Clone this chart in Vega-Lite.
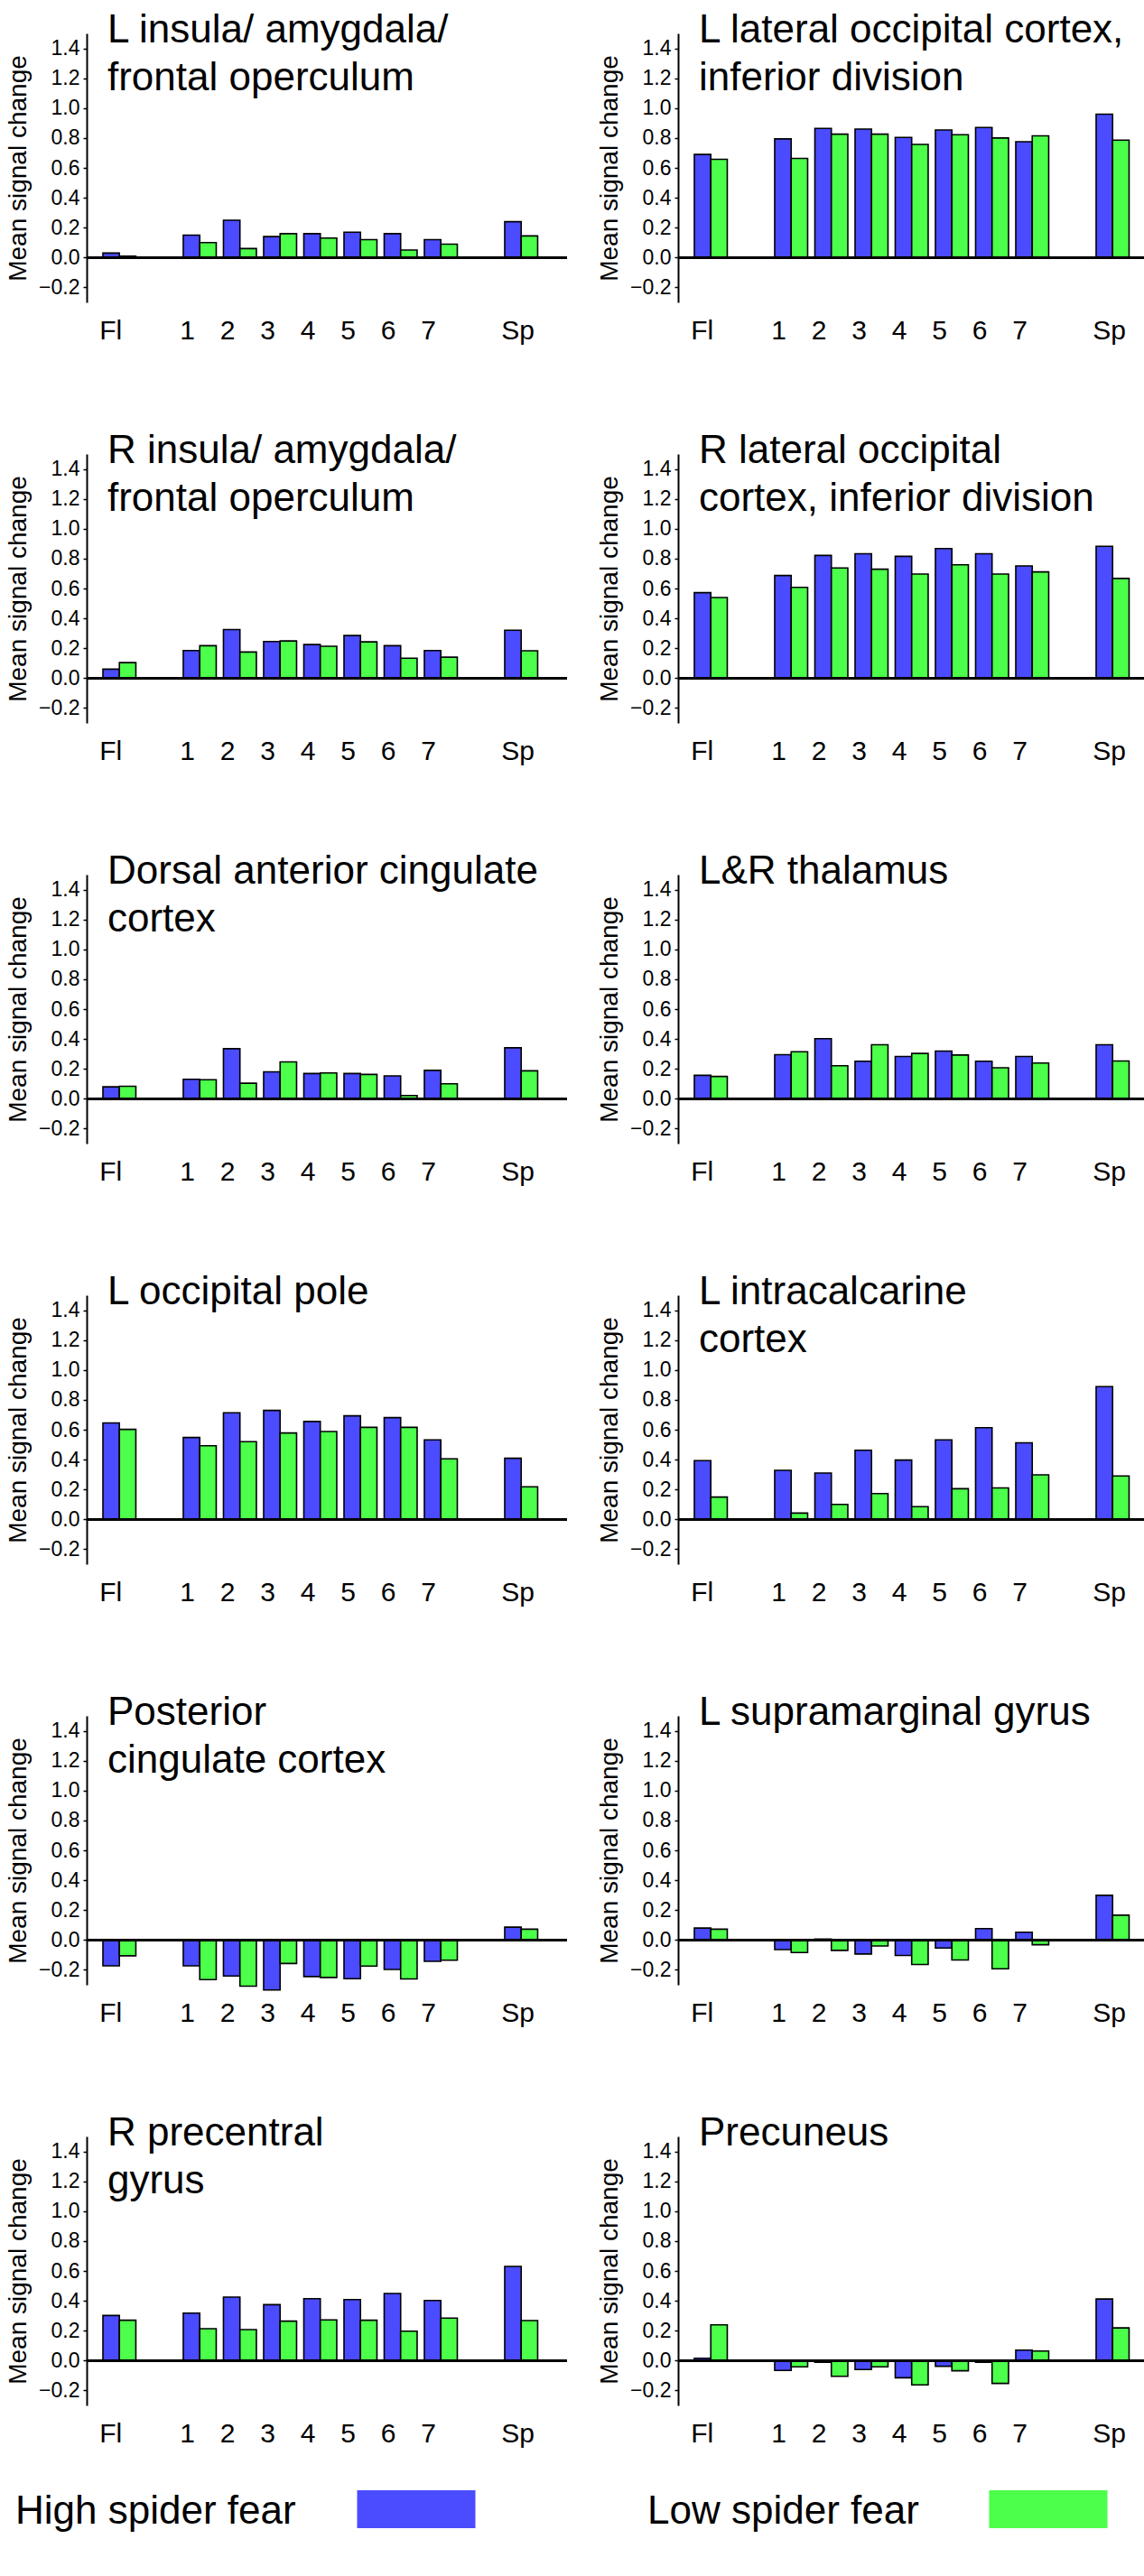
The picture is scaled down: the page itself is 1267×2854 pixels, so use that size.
{
  "$schema": "https://vega.github.io/schema/vega-lite/v6.json",
  "padding": {"left": 6, "top": 12, "right": 0, "bottom": 0},
  "background": "white",
  "config": {
    "font": "Liberation Sans",
    "view": {"stroke": null},
    "header": {"labels": false, "title": null, "labelExpr": "''", "labelFontSize": 0, "labelPadding": 0},
    "headerFacet": {"labels": false, "title": null, "labelExpr": "''", "labelFontSize": 0, "labelPadding": 0},
    "axis": {
      "labelColor": "black",
      "titleColor": "black",
      "domainColor": "black",
      "tickColor": "black",
      "titleFontWeight": "normal",
      "grid": false
    }
  },
  "vconcat": [
    {
      "data": {
        "values": [
          {"r": "L insula/ amygdala/\nfrontal operculum", "c": "Fl", "high": 0.03, "low": 0.01},
          {"r": "L insula/ amygdala/\nfrontal operculum", "c": "1", "high": 0.15, "low": 0.10},
          {"r": "L insula/ amygdala/\nfrontal operculum", "c": "2", "high": 0.25, "low": 0.06},
          {"r": "L insula/ amygdala/\nfrontal operculum", "c": "3", "high": 0.14, "low": 0.16},
          {"r": "L insula/ amygdala/\nfrontal operculum", "c": "4", "high": 0.16, "low": 0.13},
          {"r": "L insula/ amygdala/\nfrontal operculum", "c": "5", "high": 0.17, "low": 0.12},
          {"r": "L insula/ amygdala/\nfrontal operculum", "c": "6", "high": 0.16, "low": 0.05},
          {"r": "L insula/ amygdala/\nfrontal operculum", "c": "7", "high": 0.12, "low": 0.09},
          {"r": "L insula/ amygdala/\nfrontal operculum", "c": "Sp", "high": 0.24, "low": 0.145},

          {"r": "L lateral occipital cortex,\ninferior division", "c": "Fl", "high": 0.69, "low": 0.657},
          {"r": "L lateral occipital cortex,\ninferior division", "c": "1", "high": 0.794, "low": 0.663},
          {"r": "L lateral occipital cortex,\ninferior division", "c": "2", "high": 0.864, "low": 0.826},
          {"r": "L lateral occipital cortex,\ninferior division", "c": "3", "high": 0.86, "low": 0.826},
          {"r": "L lateral occipital cortex,\ninferior division", "c": "4", "high": 0.804, "low": 0.757},
          {"r": "L lateral occipital cortex,\ninferior division", "c": "5", "high": 0.854, "low": 0.822},
          {"r": "L lateral occipital cortex,\ninferior division", "c": "6", "high": 0.87, "low": 0.80},
          {"r": "L lateral occipital cortex,\ninferior division", "c": "7", "high": 0.775, "low": 0.814},
          {"r": "L lateral occipital cortex,\ninferior division", "c": "Sp", "high": 0.959, "low": 0.786},

          {"r": "R insula/ amygdala/\nfrontal operculum", "c": "Fl", "high": 0.06, "low": 0.104},
          {"r": "R insula/ amygdala/\nfrontal operculum", "c": "1", "high": 0.185, "low": 0.217},
          {"r": "R insula/ amygdala/\nfrontal operculum", "c": "2", "high": 0.325, "low": 0.175},
          {"r": "R insula/ amygdala/\nfrontal operculum", "c": "3", "high": 0.245, "low": 0.249},
          {"r": "R insula/ amygdala/\nfrontal operculum", "c": "4", "high": 0.225, "low": 0.213},
          {"r": "R insula/ amygdala/\nfrontal operculum", "c": "5", "high": 0.285, "low": 0.243},
          {"r": "R insula/ amygdala/\nfrontal operculum", "c": "6", "high": 0.217, "low": 0.133},
          {"r": "R insula/ amygdala/\nfrontal operculum", "c": "7", "high": 0.185, "low": 0.14},
          {"r": "R insula/ amygdala/\nfrontal operculum", "c": "Sp", "high": 0.321, "low": 0.183},

          {"r": "R lateral occipital\ncortex, inferior division", "c": "Fl", "high": 0.572, "low": 0.54},
          {"r": "R lateral occipital\ncortex, inferior division", "c": "1", "high": 0.687, "low": 0.608},
          {"r": "R lateral occipital\ncortex, inferior division", "c": "2", "high": 0.821, "low": 0.737},
          {"r": "R lateral occipital\ncortex, inferior division", "c": "3", "high": 0.833, "low": 0.729},
          {"r": "R lateral occipital\ncortex, inferior division", "c": "4", "high": 0.815, "low": 0.697},
          {"r": "R lateral occipital\ncortex, inferior division", "c": "5", "high": 0.867, "low": 0.759},
          {"r": "R lateral occipital\ncortex, inferior division", "c": "6", "high": 0.833, "low": 0.697},
          {"r": "R lateral occipital\ncortex, inferior division", "c": "7", "high": 0.751, "low": 0.711},
          {"r": "R lateral occipital\ncortex, inferior division", "c": "Sp", "high": 0.882, "low": 0.667},

          {"r": "Dorsal anterior cingulate\ncortex", "c": "Fl", "high": 0.08, "low": 0.084},
          {"r": "Dorsal anterior cingulate\ncortex", "c": "1", "high": 0.13, "low": 0.127},
          {"r": "Dorsal anterior cingulate\ncortex", "c": "2", "high": 0.335, "low": 0.104},
          {"r": "Dorsal anterior cingulate\ncortex", "c": "3", "high": 0.18, "low": 0.247},
          {"r": "Dorsal anterior cingulate\ncortex", "c": "4", "high": 0.169, "low": 0.173},
          {"r": "Dorsal anterior cingulate\ncortex", "c": "5", "high": 0.169, "low": 0.163},
          {"r": "Dorsal anterior cingulate\ncortex", "c": "6", "high": 0.153, "low": 0.022},
          {"r": "Dorsal anterior cingulate\ncortex", "c": "7", "high": 0.19, "low": 0.10},
          {"r": "Dorsal anterior cingulate\ncortex", "c": "Sp", "high": 0.341, "low": 0.187},

          {"r": "L&R thalamus", "c": "Fl", "high": 0.157, "low": 0.149},
          {"r": "L&R thalamus", "c": "1", "high": 0.295, "low": 0.315},
          {"r": "L&R thalamus", "c": "2", "high": 0.402, "low": 0.221},
          {"r": "L&R thalamus", "c": "3", "high": 0.251, "low": 0.361},
          {"r": "L&R thalamus", "c": "4", "high": 0.283, "low": 0.303},
          {"r": "L&R thalamus", "c": "5", "high": 0.319, "low": 0.293},
          {"r": "L&R thalamus", "c": "6", "high": 0.251, "low": 0.207},
          {"r": "L&R thalamus", "c": "7", "high": 0.283, "low": 0.239},
          {"r": "L&R thalamus", "c": "Sp", "high": 0.361, "low": 0.253},

          {"r": "L occipital pole", "c": "Fl", "high": 0.645, "low": 0.602},
          {"r": "L occipital pole", "c": "1", "high": 0.548, "low": 0.493},
          {"r": "L occipital pole", "c": "2", "high": 0.713, "low": 0.52},
          {"r": "L occipital pole", "c": "3", "high": 0.729, "low": 0.578},
          {"r": "L occipital pole", "c": "4", "high": 0.655, "low": 0.588},
          {"r": "L occipital pole", "c": "5", "high": 0.693, "low": 0.616},
          {"r": "L occipital pole", "c": "6", "high": 0.681, "low": 0.616},
          {"r": "L occipital pole", "c": "7", "high": 0.532, "low": 0.405},
          {"r": "L occipital pole", "c": "Sp", "high": 0.409, "low": 0.218},

          {"r": "L intracalcarine\ncortex", "c": "Fl", "high": 0.393, "low": 0.149},
          {"r": "L intracalcarine\ncortex", "c": "1", "high": 0.328, "low": 0.042},
          {"r": "L intracalcarine\ncortex", "c": "2", "high": 0.31, "low": 0.10},
          {"r": "L intracalcarine\ncortex", "c": "3", "high": 0.463, "low": 0.173},
          {"r": "L intracalcarine\ncortex", "c": "4", "high": 0.397, "low": 0.085},
          {"r": "L intracalcarine\ncortex", "c": "5", "high": 0.532, "low": 0.205},
          {"r": "L intracalcarine\ncortex", "c": "6", "high": 0.614, "low": 0.21},
          {"r": "L intracalcarine\ncortex", "c": "7", "high": 0.512, "low": 0.298},
          {"r": "L intracalcarine\ncortex", "c": "Sp", "high": 0.888, "low": 0.29},

          {"r": "Posterior\ncingulate cortex", "c": "Fl", "high": -0.173, "low": -0.106},
          {"r": "Posterior\ncingulate cortex", "c": "1", "high": -0.173, "low": -0.265},
          {"r": "Posterior\ncingulate cortex", "c": "2", "high": -0.241, "low": -0.309},
          {"r": "Posterior\ncingulate cortex", "c": "3", "high": -0.335, "low": -0.157},
          {"r": "Posterior\ncingulate cortex", "c": "4", "high": -0.245, "low": -0.251},
          {"r": "Posterior\ncingulate cortex", "c": "5", "high": -0.259, "low": -0.175},
          {"r": "Posterior\ncingulate cortex", "c": "6", "high": -0.197, "low": -0.261},
          {"r": "Posterior\ncingulate cortex", "c": "7", "high": -0.143, "low": -0.135},
          {"r": "Posterior\ncingulate cortex", "c": "Sp", "high": 0.086, "low": 0.072},

          {"r": "L supramarginal gyrus", "c": "Fl", "high": 0.08, "low": 0.072},
          {"r": "L supramarginal gyrus", "c": "1", "high": -0.064, "low": -0.084},
          {"r": "L supramarginal gyrus", "c": "2", "high": 0.006, "low": -0.07},
          {"r": "L supramarginal gyrus", "c": "3", "high": -0.094, "low": -0.04},
          {"r": "L supramarginal gyrus", "c": "4", "high": -0.104, "low": -0.164},
          {"r": "L supramarginal gyrus", "c": "5", "high": -0.054, "low": -0.134},
          {"r": "L supramarginal gyrus", "c": "6", "high": 0.076, "low": -0.193},
          {"r": "L supramarginal gyrus", "c": "7", "high": 0.052, "low": -0.032},
          {"r": "L supramarginal gyrus", "c": "Sp", "high": 0.299, "low": 0.166},

          {"r": "R precentral\ngyrus", "c": "Fl", "high": 0.302, "low": 0.27},
          {"r": "R precentral\ngyrus", "c": "1", "high": 0.318, "low": 0.213},
          {"r": "R precentral\ngyrus", "c": "2", "high": 0.425, "low": 0.207},
          {"r": "R precentral\ngyrus", "c": "3", "high": 0.374, "low": 0.264},
          {"r": "R precentral\ngyrus", "c": "4", "high": 0.414, "low": 0.272},
          {"r": "R precentral\ngyrus", "c": "5", "high": 0.408, "low": 0.27},
          {"r": "R precentral\ngyrus", "c": "6", "high": 0.449, "low": 0.197},
          {"r": "R precentral\ngyrus", "c": "7", "high": 0.402, "low": 0.284},
          {"r": "R precentral\ngyrus", "c": "Sp", "high": 0.63, "low": 0.268},

          {"r": "Precuneus", "c": "Fl", "high": 0.016, "low": 0.239},
          {"r": "Precuneus", "c": "1", "high": -0.066, "low": -0.042},
          {"r": "Precuneus", "c": "2", "high": -0.012, "low": -0.105},
          {"r": "Precuneus", "c": "3", "high": -0.06, "low": -0.042},
          {"r": "Precuneus", "c": "4", "high": -0.115, "low": -0.163},
          {"r": "Precuneus", "c": "5", "high": -0.038, "low": -0.068},
          {"r": "Precuneus", "c": "6", "high": -0.012, "low": -0.153},
          {"r": "Precuneus", "c": "7", "high": 0.07, "low": 0.064},
          {"r": "Precuneus", "c": "Sp", "high": 0.412, "low": 0.219}
        ]
      },
      "transform": [{"fold": ["high", "low"], "as": ["group", "value"]}],
      "facet": {
        "field": "r",
        "type": "nominal",
        "sort": [
          "L insula/ amygdala/\nfrontal operculum",
          "L lateral occipital cortex,\ninferior division",
          "R insula/ amygdala/\nfrontal operculum",
          "R lateral occipital\ncortex, inferior division",
          "Dorsal anterior cingulate\ncortex",
          "L&R thalamus",
          "L occipital pole",
          "L intracalcarine\ncortex",
          "Posterior\ncingulate cortex",
          "L supramarginal gyrus",
          "R precentral\ngyrus",
          "Precuneus"
        ],
        "header": {"labels": false, "title": null, "labelExpr": "''", "labelFontSize": 0, "labelPadding": 0}
      },
      "columns": 2,
      "spacing": {"column": 32, "row": 97},
      "resolve": {"axis": {"x": "independent", "y": "independent"}},
      "spec": {
        "width": 532,
        "height": 298,
        "layer": [
          {
            "mark": {"type": "bar", "stroke": "black", "strokeWidth": 1.6},
            "encoding": {
              "x": {
                "field": "c",
                "type": "nominal",
                "scale": {
                  "domain": ["Fl", " ", "1", "2", "3", "4", "5", "6", "7", "  ", "Sp"],
                  "paddingInner": 0.18,
                  "paddingOuter": 0.5675,
                  "align": 0.356
                },
                "axis": {
                  "title": null,
                  "labelAngle": 0,
                  "labelFontSize": 30,
                  "labelAlign": "left",
                  "labelOffset": -22,
                  "domain": false,
                  "ticks": false,
                  "labelPadding": 16
                }
              },
              "xOffset": {"field": "group", "type": "nominal", "sort": ["high", "low"]},
              "y": {
                "field": "value",
                "type": "quantitative",
                "scale": {"domain": [-0.3, 1.5], "nice": false},
                "axis": {
                  "title": "Mean signal change",
                  "titleFontSize": 28,
                  "titlePadding": 8,
                  "values": [-0.2, 0, 0.2, 0.4, 0.6, 0.8, 1.0, 1.2, 1.4],
                  "tickCount": 12,
                  "format": ".1f",
                  "labelFontSize": 23,
                  "labelOverlap": false,
                  "labelPadding": 4,
                  "tickSize": 4,
                  "tickWidth": 1.5,
                  "domainWidth": 2
                }
              },
              "color": {
                "field": "group",
                "type": "nominal",
                "scale": {"domain": ["high", "low"], "range": ["#4B4BFF", "#4BFF4B"]},
                "legend": null
              }
            }
          },
          {
            "mark": {"type": "rule", "color": "black", "strokeWidth": 2},
            "encoding": {"y": {"datum": 0, "type": "quantitative"}}
          },
          {
            "transform": [{"filter": "datum.c == 'Fl' && datum.group == 'high'"}],
            "mark": {
              "type": "text",
              "align": "left",
              "baseline": "alphabetic",
              "fontSize": 44,
              "lineHeight": 53,
              "lineBreak": "\n",
              "dx": 5,
              "dy": 10,
              "color": "black"
            },
            "encoding": {
              "x": {"datum": "Fl", "type": "nominal", "bandPosition": 0},
              "y": {"datum": 1.5, "type": "quantitative"},
              "text": {"field": "r"}
            }
          }
        ]
      }
    },
    {
      "width": 1100,
      "height": 42,
      "data": {
        "values": [
          {"group": "high", "label": "High spider fear"},
          {"group": "low", "label": "Low spider fear"}
        ]
      },
      "layer": [
        {
          "mark": {"type": "text", "align": "left", "baseline": "middle", "fontSize": 44, "dy": 3, "color": "black"},
          "encoding": {
            "x": {"field": "group", "type": "nominal", "scale": {"type": "point", "range": [-79, 621], "padding": 0}, "axis": null},
            "text": {"field": "label"}
          }
        },
        {
          "mark": {"type": "bar", "width": 131, "xOffset": 444},
          "encoding": {
            "x": {"field": "group", "type": "nominal", "scale": {"type": "point"}, "axis": null},
            "color": {
              "field": "group",
              "type": "nominal",
              "scale": {"domain": ["high", "low"], "range": ["#4B4BFF", "#4BFF4B"]},
              "legend": null
            }
          }
        }
      ]
    }
  ],
  "spacing": 48
}
